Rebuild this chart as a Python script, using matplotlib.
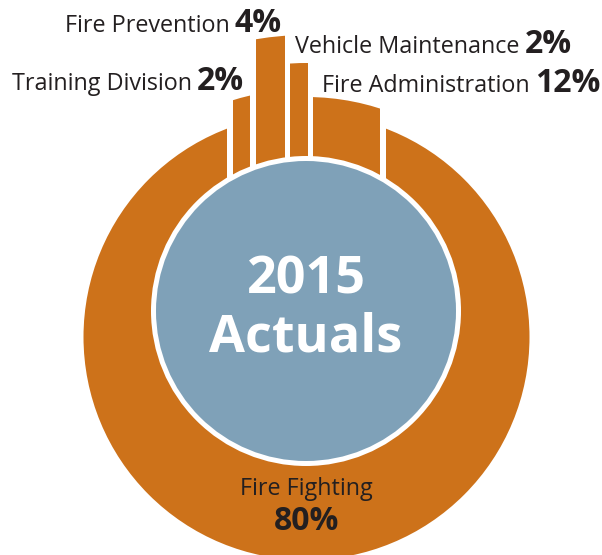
import matplotlib.pyplot as plt
from matplotlib.patches import Wedge, Circle, Rectangle

# données du graphique
labels = ['Fire Fighting', 'Training Division', 'Fire Prevention',
          'Vehicle Maintenance', 'Fire Administration']
pct = [80, 2, 4, 2, 12]
titre = ['2015', 'Actuals']

# style
orange = '#CD721A'
bleu = '#7FA1B8'
noir = '#231F20'
police = 'Open Sans'
taille_nom = 16.8
taille_pct = 23

W, H = 602, 555
cx, cy = 306.5, 218            # centre de l'anneau
bx, by = 306, 244              # centre du disque bleu
r_anneau = 223
r_blanc = 155
r_bleu = 150
ecart = 5.5
r_parts = [248, 302, 274, 240]  # rayon ext. des petites parts (ordre labels[1:])

# position des étiquettes : (x, y de la ligne de base, côté)
pos_etiq = [(244, 465, 'g'), (282, 523, 'g'), (295, 502, 'd'), (322, 463, 'd')]

fig = plt.figure(figsize=(W / 100, H / 100), dpi=100)
ax = fig.add_axes([0, 0, 1, 1])
ax.set_xlim(0, W)
ax.set_ylim(0, H)
ax.set_aspect('equal')
ax.axis('off')

# grande part : anneau complet
ax.add_patch(Circle((cx, cy), r_anneau, color=orange, lw=0))

# largeur des petites parts
largeurs = [10.4 * p ** 0.75 for p in pct[1:]]
total = sum(largeurs) + ecart * (len(largeurs) - 1)
x0 = cx - total / 2
ax.add_patch(Rectangle((x0 - ecart, cy + 100), total + 2 * ecart, H, color='white', lw=0))

x = x0
for w, r in zip(largeurs, r_parts):
    part = Wedge((cx, cy), r, 0, 180, color=orange, lw=0)
    ax.add_patch(part)
    part.set_clip_path(Rectangle((x, cy), w, H, transform=ax.transData))
    x += w + ecart

# disque central
ax.add_patch(Circle((bx, by), r_blanc, color='white', lw=0))
ax.add_patch(Circle((bx, by), r_bleu, color=bleu, lw=0))
ax.text(bx, H - 293, titre[0], ha='center', va='baseline', fontsize=37.5,
        weight='bold', color='white', family=police)
ax.text(bx, H - 352, titre[1], ha='center', va='baseline', fontsize=37.5,
        weight='bold', color='white', family=police)

# étiquettes
fig.canvas.draw()
rend = fig.canvas.get_renderer()
inv = ax.transData.inverted()

for nom, p, (xe, ye, cote) in zip(labels[1:], pct[1:], pos_etiq):
    if cote == 'g':
        t = ax.text(xe, ye, f'{p}%', ha='right', va='baseline', fontsize=taille_pct,
                    weight='bold', color=noir, family=police)
        bb = t.get_window_extent(rend).transformed(inv)
        ax.text(bb.x0 - 5, ye, nom, ha='right', va='baseline', fontsize=taille_nom,
                color=noir, family=police)
    else:
        t = ax.text(xe, ye, nom, ha='left', va='baseline', fontsize=taille_nom,
                    color=noir, family=police)
        bb = t.get_window_extent(rend).transformed(inv)
        ax.text(bb.x1 + 5, ye, f'{p}%', ha='left', va='baseline', fontsize=taille_pct,
                weight='bold', color=noir, family=police)

ax.text(cx, H - 495, labels[0], ha='center', va='baseline', fontsize=taille_nom,
        color=noir, family=police)
ax.text(cx, H - 530, f'{pct[0]}%', ha='center', va='baseline', fontsize=taille_pct,
        weight='bold', color=noir, family=police)

fig.savefig('out.png', dpi=100)
